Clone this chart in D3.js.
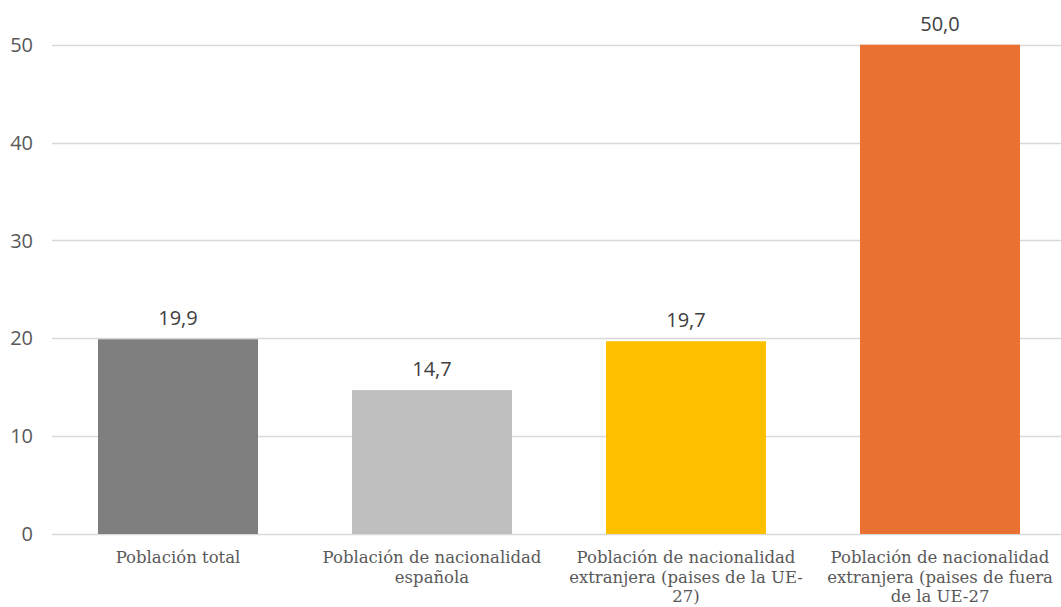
<!DOCTYPE html>
<html>
<head>
<meta charset="utf-8">
<script src="https://cdn.jsdelivr.net/npm/d3@7"></script>
<style>
  html, body { margin: 0; padding: 0; background: #fff; }
  svg { display: block; }
</style>
</head>
<body>
<svg id="chart" width="1061" height="607"></svg>
<script>
// Category labels (line breaks as they appear under each bar)
const categories = [
  "Población total",
  "Población de nacionalidad\nespañola",
  "Población de nacionalidad\nextranjera (paises de la UE-\n27)",
  "Población de nacionalidad\nextranjera (paises de fuera\nde la UE-27"
];
const values = [19.9, 14.7, 19.7, 50.0];
const barColors = ["#7f7f7f", "#bfbfbf", "#ffc000", "#e97132"];
const yTicks = [0, 10, 20, 30, 40, 50];

const svg = d3.select("#chart");
const W = 1061;

const x = d3.scaleBand()
  .domain(categories)
  .range([51, 1067])
  .paddingInner(0.37)
  .paddingOuter(0.185);

const y = d3.scaleLinear().domain([0, 50]).range([534, 44.7]);

// horizontal gridlines
svg.append("g")
  .selectAll("line")
  .data(yTicks)
  .join("line")
  .attr("x1", 52)
  .attr("x2", W)
  .attr("y1", d => Math.round(y(d)) + 0.5)
  .attr("y2", d => Math.round(y(d)) + 0.5)
  .attr("stroke", "#d9d9d9")
  .attr("stroke-width", 1.3);

// y-axis tick labels
svg.append("g")
  .selectAll("text")
  .data(yTicks)
  .join("text")
  .attr("x", 33)
  .attr("y", d => y(d))
  .attr("dy", "0.36em")
  .attr("text-anchor", "end")
  .attr("font-family", "'Open Sans', sans-serif")
  .attr("font-size", 20)
  .attr("fill", "#595959")
  .text(d => d);

// bars
svg.append("g")
  .selectAll("rect")
  .data(values)
  .join("rect")
  .attr("x", (d, i) => x(categories[i]))
  .attr("width", x.bandwidth())
  .attr("y", d => y(d))
  .attr("height", d => y(0) - y(d))
  .attr("fill", (d, i) => barColors[i]);

// value labels
const fmt = d3.formatLocale({ decimal: ",", thousands: ".", grouping: [3], currency: ["", "€"] }).format(".1f");
svg.append("g")
  .selectAll("text")
  .data(values)
  .join("text")
  .attr("x", (d, i) => x(categories[i]) + x.bandwidth() / 2)
  .attr("y", d => y(d) - 14)
  .attr("text-anchor", "middle")
  .attr("font-family", "'Open Sans', sans-serif")
  .attr("font-size", 20)
  .attr("fill", "#404040")
  .text(d => fmt(d));

// category labels
const catG = svg.append("g")
  .selectAll("text")
  .data(categories)
  .join("text")
  .attr("text-anchor", "middle")
  .attr("font-family", "'DejaVu Serif', serif")
  .attr("font-size", 16.5)
  .attr("fill", "#595959")
  .attr("transform", d => `translate(${x(d) + x.bandwidth() / 2},563)`);

catG.selectAll("tspan")
  .data(d => d.split("\n"))
  .join("tspan")
  .attr("x", 0)
  .attr("y", (d, i) => i * 19.5)
  .text(d => d);
</script>
</body>
</html>
